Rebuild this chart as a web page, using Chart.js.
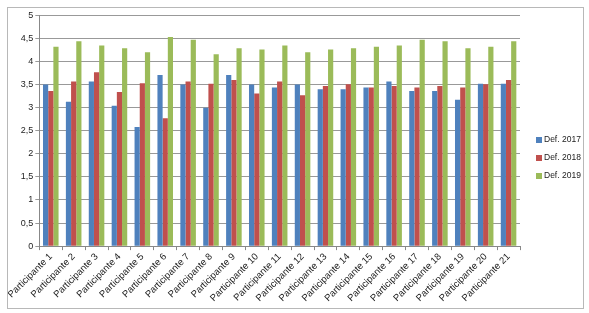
<!DOCTYPE html>
<html>
<head>
<meta charset="utf-8">
<script src="https://cdn.jsdelivr.net/npm/chart.js@4"></script>
<style>
    html, body { margin: 0; padding: 0; background: #fff; }
    #frame {
        position: absolute; left: 7px; top: 7px;
        width: 575px; height: 300px;
        border: 1px solid #b8b8b8;
    }
    #chart { display: block; }
</style>
</head>
<body>
<div id="frame"><canvas id="chart" width="575" height="300"></canvas></div>
<script>
// Catégories et valeurs
const participants = [
    "Participante 1", "Participante 2", "Participante 3", "Participante 4", "Participante 5",
    "Participante 6", "Participante 7", "Participante 8", "Participante 9", "Participante 10",
    "Participante 11", "Participante 12", "Participante 13", "Participante 14", "Participante 15",
    "Participante 16", "Participante 17", "Participante 18", "Participante 19", "Participante 20",
    "Participante 21"
];
const def2017 = [3.5, 3.13, 3.57, 3.04, 2.58, 3.71, 3.5, 3.0, 3.71, 3.5, 3.44, 3.5, 3.4, 3.4, 3.44, 3.57, 3.36, 3.36, 3.17, 3.52, 3.52];
const def2018 = [3.36, 3.57, 3.77, 3.34, 3.53, 2.77, 3.57, 3.52, 3.6, 3.31, 3.57, 3.27, 3.47, 3.51, 3.44, 3.47, 3.44, 3.47, 3.44, 3.51, 3.6];
const def2019 = [4.32, 4.44, 4.35, 4.29, 4.2, 4.53, 4.47, 4.16, 4.29, 4.26, 4.35, 4.2, 4.26, 4.29, 4.32, 4.35, 4.47, 4.44, 4.29, 4.32, 4.44];
const seriesNames = ["Def. 2017", "Def. 2018", "Def. 2019"];
const seriesColors = ["#4F81BD", "#C0504D", "#9BBB59"];

const fontFamily = "'Liberation Sans', Arial, sans-serif";

// Légende dessinée à droite, comme dans Excel (carrés + texte)
const sideLegend = {
    id: "sideLegend",
    afterDraw(chart) {
        const ctx = chart.ctx;
        const x = chart.chartArea.right + 16;
        const mid = chart.height / 2;
        ctx.save();
        ctx.font = "8.5px " + fontFamily;
        ctx.textBaseline = "middle";
        ctx.textAlign = "left";
        chart.data.datasets.forEach((ds, i) => {
            const y = mid + (i - 1) * 18;
            ctx.fillStyle = ds.backgroundColor;
            ctx.fillRect(x, y - 3, 6, 6);
            ctx.fillStyle = "#222";
            ctx.fillText(ds.label, x + 8, y);
        });
        ctx.restore();
    }
};

new Chart(document.getElementById("chart").getContext("2d"), {
    type: "bar",
    data: {
        labels: participants,
        datasets: [
            { label: seriesNames[0], data: def2017, backgroundColor: seriesColors[0] },
            { label: seriesNames[1], data: def2018, backgroundColor: seriesColors[1] },
            { label: seriesNames[2], data: def2019, backgroundColor: seriesColors[2] }
        ]
    },
    plugins: [sideLegend],
    options: {
        responsive: false,
        animation: false,
        layout: { padding: { top: 4, left: 9, right: 63, bottom: 3 } },
        datasets: { bar: { barPercentage: 1, categoryPercentage: 0.68 } },
        plugins: {
            legend: { display: false },
            tooltip: { enabled: false }
        },
        scales: {
            x: {
                grid: { drawOnChartArea: false, color: "#888", tickLength: 4 },
                border: { color: "#888" },
                ticks: {
                    font: { family: fontFamily, size: 9.5 }, color: "#222",
                    minRotation: 45, maxRotation: 45, autoSkip: false, padding: 1
                }
            },
            y: {
                min: 0, max: 5,
                grid: { color: "#999", tickLength: 4 },
                border: { color: "#888" },
                ticks: {
                    stepSize: 0.5, font: { family: fontFamily, size: 9 }, color: "#222", padding: 2,
                    callback: v => String(v).replace(".", ",")
                }
            }
        }
    }
});
</script>
</body>
</html>
